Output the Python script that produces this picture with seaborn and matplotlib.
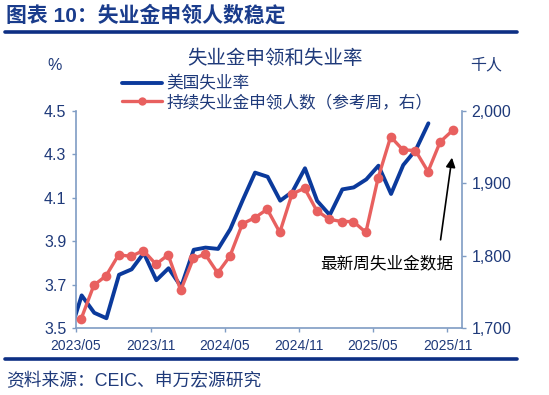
import pandas as pd
import matplotlib.pyplot as plt
import matplotlib.dates as mdates
from matplotlib.lines import Line2D
import seaborn as sns

# === data ===
# US unemployment rate (%), monthly, plotted mid-month
rate_dates = pd.date_range("2023-04-01", "2025-09-01", freq="MS") + pd.Timedelta(days=14)
rate_values = [3.47, 3.65, 3.57, 3.545, 3.745, 3.77, 3.845, 3.72, 3.775, 3.69,
               3.86, 3.87, 3.864, 3.955, 4.09, 4.215, 4.196, 4.086, 4.127, 4.235,
               4.085, 4.02, 4.138, 4.147, 4.184, 4.247, 4.117, 4.25, 4.32, 4.442]

# continuing claims (thousands), reference week of each month
claims_dates = pd.date_range("2023-05-01", "2025-11-01", freq="MS") + pd.Timedelta(days=13)
claims_values = [1713, 1759, 1772, 1801, 1799, 1807, 1788, 1801, 1752, 1796,
                 1802, 1776, 1799, 1844, 1852, 1864, 1832, 1885, 1893, 1862,
                 1850, 1847, 1847, 1832, 1907, 1964, 1946, 1945, 1916, 1957, 1973]

tick_dates = pd.date_range("2023-05-01", "2025-11-01", freq="6MS")

rate = pd.DataFrame({"date": rate_dates, "value": rate_values})
claims = pd.DataFrame({"date": claims_dates, "value": claims_values})

sns.set_style("white")
plt.rcParams["font.family"] = ["Liberation Sans", "Noto Sans CJK SC"]

navy = "#1f3a7a"
blue = "#0b3a9c"
red = "#e8605f"
spine = "#7f9cc4"

fig = plt.figure(figsize=(5.49, 3.95), dpi=100)
ax = fig.add_axes([0.1384, 0.1696, 0.7026, 0.5501])
ax2 = ax.twinx()

sns.lineplot(data=rate, x="date", y="value", ax=ax, color=blue, linewidth=2.8,
             label="美国失业率", legend=False)
sns.lineplot(data=claims, x="date", y="value", ax=ax2, color=red, linewidth=2.4,
             marker="o", markersize=7, markeredgewidth=0,
             label="持续失业金申领人数（参考周，右）", legend=False)

ax.set_xlim(pd.Timestamp("2023-05-01"), pd.Timestamp("2025-12-06"))
ax.set_ylim(3.5, 4.5)
ax2.set_ylim(1700, 2000)
ax.set_yticks([3.5, 3.7, 3.9, 4.1, 4.3, 4.5])
ax.set_yticklabels(["3.5", "3.7", "3.9", "4.1", "4.3", "4.5"])
ax2.set_yticks([1700, 1800, 1900, 2000])
ax2.set_yticklabels(["1,700", "1,800", "1,900", "2,000"])
ax.set_xticks(tick_dates)
ax.xaxis.set_major_formatter(mdates.DateFormatter("%Y/%m"))

for a in (ax, ax2):
    a.set_xlabel("")
    a.set_ylabel("")
    a.spines["top"].set_visible(False)
    for s in ("left", "right", "bottom"):
        a.spines[s].set_color(spine)
        a.spines[s].set_linewidth(1.2)
    a.tick_params(axis="both", direction="out", length=3, width=1, color=spine,
                  labelcolor=navy)
ax.spines["right"].set_visible(False)
ax2.spines["left"].set_visible(False)
ax2.spines["bottom"].set_visible(False)
ax.tick_params(axis="y", labelsize=11.5, pad=4, left=True)
ax.tick_params(axis="x", labelsize=10, pad=5, bottom=True)
ax2.tick_params(axis="y", labelsize=11.5, pad=4, right=True)

# annotation arrow for latest weekly data
ax2.annotate("", xy=(pd.Timestamp("2025-11-13"), 1939), xytext=(pd.Timestamp("2025-10-14"), 1818),
             arrowprops=dict(arrowstyle="-|>", color="black", lw=1.2, mutation_scale=14))
ax2.text(pd.Timestamp("2025-06-03"), 1789, "最新周失业金数据", fontsize=12, color="black",
         ha="center", va="center")

# legend
handles = [Line2D([], [], color=blue, lw=2.8),
           Line2D([], [], color=red, lw=2.4, marker="o", markersize=6, markeredgewidth=0)]
labels = ["美国失业率", "持续失业金申领人数（参考周，右）"]
fig.legend(handles, labels, loc="upper left", bbox_to_anchor=(0.2217, 0.808),
           frameon=False, fontsize=12, handlelength=2.4, handletextpad=0.3,
           labelspacing=0.15, borderpad=0, borderaxespad=0, numpoints=1, labelcolor=navy)

# titles and labels
fig.text(0.011, 1 - 15 / 395, "图表 10：失业金申领人数稳定", fontsize=15, weight="bold",
         color="#1a3c8c", va="center", ha="left")
fig.add_artist(Line2D([0.009, 0.942], [1 - 32.3 / 395] * 2, lw=2.6, color="#0d2f84"))
fig.text(0.501, 1 - 58.3 / 395, "失业金申领和失业率", fontsize=14, color=navy,
         ha="center", va="center")
fig.text(55 / 549, 1 - 65 / 395, "%", fontsize=11.5, color=navy, ha="center", va="center")
fig.text(486 / 549, 1 - 65 / 395, "千人", fontsize=11.5, color=navy, ha="center", va="center")
fig.add_artist(Line2D([0.009, 0.942], [1 - 359.3 / 395] * 2, lw=2.6, color="#0d2f84"))
fig.text(0.011, 1 - 381.7 / 395, "资料来源：CEIC、申万宏源研究", fontsize=12.8, color=navy,
         ha="left", va="center")

fig.savefig("out.png", dpi=100, facecolor="white")
